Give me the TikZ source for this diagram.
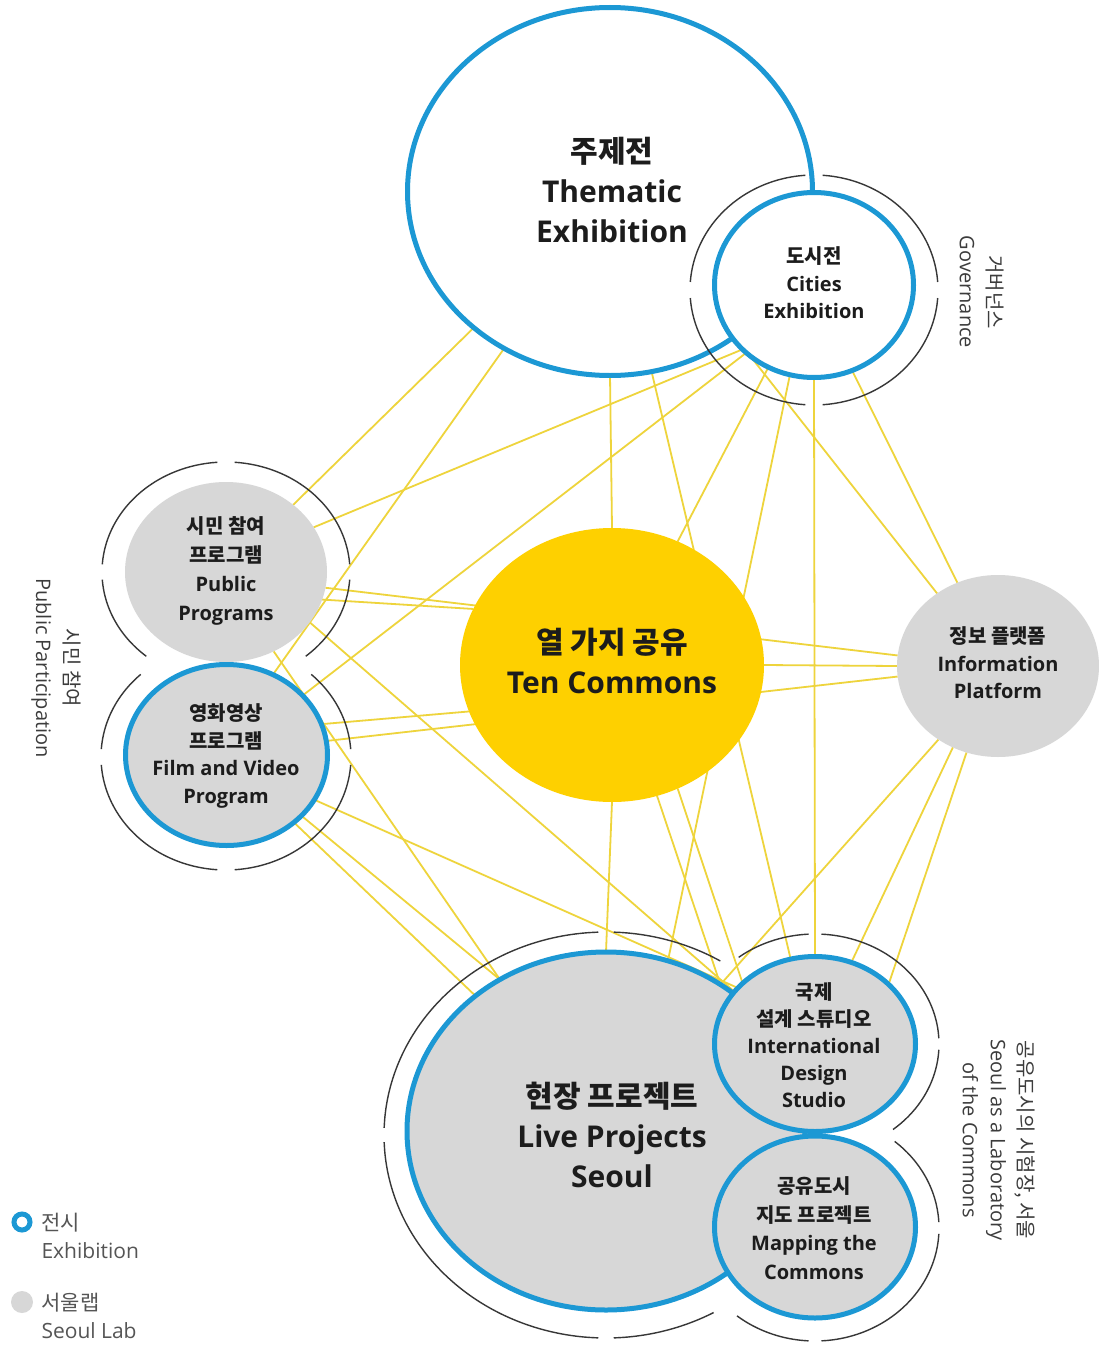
\documentclass[tikz,border=0pt]{standalone}
\usepackage{fontspec}
\setmainfont{Open Sans}
\newfontfamily\kr{Noto Sans CJK KR}
\usetikzlibrary{shapes.geometric}
\definecolor{exblue}{RGB}{28,152,212}
\definecolor{labgray}{RGB}{215,215,215}
\definecolor{commons}{RGB}{254,208,0}
\definecolor{linkc}{RGB}{238,212,60}
\definecolor{ringc}{RGB}{55,55,55}
\definecolor{txtc}{RGB}{28,28,28}
\definecolor{sidec}{RGB}{60,60,60}
\definecolor{legc}{RGB}{85,85,85}
\pgfdeclarelayer{paper}
\pgfdeclarelayer{linklayer}
\pgfsetlayers{paper,linklayer,main}
\newcommand\ringseg[5]{\draw[ringarc, shift={(#1)}] plot[smooth, domain=#4:#5, samples=30, variable=\t] ({#2*cos(\t)},{#3*sin(\t)});}
\begin{document}
\begin{tikzpicture}[x=1pt, y=-1pt,
  blob/.style={ellipse, inner sep=0pt, outer sep=0pt},
  exhib/.style={draw=exblue, line width=5pt},
  linkline/.style={draw=linkc, line width=1.8pt},
  ringarc/.style={draw=ringc, line width=1.4pt},
  bigtxt/.style={align=center, text=txtc, font=\fontsize{30}{40}\selectfont\bfseries},
  smalltxt/.style={align=center, text=txtc, font=\fontsize{20}{27.5}\selectfont\bfseries},
  sidelbl/.style={align=center, rotate=-90, text=sidec, font=\fontsize{20}{28}\selectfont},
  legtxt/.style={align=left, anchor=west, text=legc, font=\fontsize{21}{28}\selectfont},
]
\useasboundingbox (0,0) rectangle (1099,1346);
\begin{pgfonlayer}{paper}
\fill[white] (0,0) rectangle (1099,1346);
\end{pgfonlayer}

% shapes
\node[blob, exhib, fill=white, minimum width=405pt, minimum height=368pt] (T) at (610,191.5) {};
\node[blob, exhib, fill=white, minimum width=199pt, minimum height=185pt] (C) at (814,285) {};
\node[blob, fill=commons, minimum width=304pt, minimum height=274pt] (Y) at (612,665) {};
\node[blob, fill=labgray, minimum width=202pt, minimum height=180pt] (P) at (226,572) {};
\node[blob, exhib, fill=labgray, minimum width=202pt, minimum height=181pt] (F) at (226.5,755) {};
\node[blob, fill=labgray, minimum width=202pt, minimum height=182pt] (I) at (998,666) {};
\node[blob, exhib, fill=labgray, minimum width=398pt, minimum height=358pt] (L) at (606,1131) {};
\node[blob, exhib, fill=labgray, minimum width=201pt, minimum height=175pt] (D) at (815,1044) {};
\node[blob, exhib, fill=labgray, minimum width=201pt, minimum height=182pt] (M) at (815,1227) {};

% connectors
\begin{pgfonlayer}{linklayer}
\draw[linkline] (T.225) -- (P.45);
\draw[linkline] (T.236) -- (F.60);
\draw[linkline] (C.222) -- (P.27);
\draw[linkline] (C.225) -- (F.38);
\draw[linkline] (T.270) -- (Y.90);
\draw[linkline] (T.283) -- (D.106);
\draw[linkline] (C.241) -- (Y.62);
\draw[linkline] (C.255) -- (L.70);
\draw[linkline] (C.270) -- (D.90);
\draw[linkline] (C.228) -- (I.130);
\draw[linkline] (C.294) -- (I.116);
\draw[linkline] (P.351) -- (I.174);
\draw[linkline] (P.344) -- (Y.158);
\draw[linkline] (F.18) -- (Y.198);
\draw[linkline] (F.8) -- (I.186);
\draw[linkline] (Y.0) -- (I.180);
\draw[linkline] (P.301) -- (L.125);
\draw[linkline] (P.329) -- (D.147);
\draw[linkline] (F.333) -- (D.144);
\draw[linkline] (F.321) -- (L.125);
\draw[linkline] (F.315) -- (L.134);
\draw[linkline] (Y.270) -- (L.90);
\draw[linkline] (Y.289) -- (L.52);
\draw[linkline] (Y.298) -- (D.140);
\draw[linkline] (I.231) -- (L.52);
\draw[linkline] (I.241) -- (D.66);
\draw[linkline] (I.250) -- (D.39);
\end{pgfonlayer}

% rings
\coordinate (Cring) at (814,290);
\coordinate (Pring) at (226,572);
\coordinate (Fring) at (226,757);
\coordinate (Lring) at (606,1135);
\coordinate (Dring) at (815,1044);
\coordinate (Mring) at (815,1228);
\ringseg{Cring}{124}{115}{4}{86}
\ringseg{Cring}{124}{115}{94}{176}
\ringseg{Cring}{124}{115}{184}{266}
\ringseg{Cring}{124}{115}{274}{356}
\ringseg{Pring}{124}{110}{-230}{-184}
\ringseg{Pring}{124}{110}{-176}{-94}
\ringseg{Pring}{124}{110}{-86}{-4}
\ringseg{Pring}{124}{110}{4}{50}
\ringseg{Fring}{125}{113}{-47}{-4}
\ringseg{Fring}{125}{113}{4}{86}
\ringseg{Fring}{125}{113}{94}{176}
\ringseg{Fring}{125}{113}{184}{227}
\ringseg{Lring}{222}{203}{61}{88}
\ringseg{Lring}{222}{203}{92}{178}
\ringseg{Lring}{222}{203}{182}{268}
\ringseg{Lring}{222}{203}{272}{301}
\ringseg{Dring}{124}{110}{-128}{-93}
\ringseg{Dring}{124}{110}{-87}{-3}
\ringseg{Dring}{124}{110}{3}{51}
\ringseg{Mring}{124}{113}{-50}{-3}
\ringseg{Mring}{124}{113}{3}{87}
\ringseg{Mring}{124}{113}{93}{129}

% texts
\node[bigtxt] (Tt) at (612,190) {{\kr 주제전}\\Thematic\\Exhibition};
\node[bigtxt] (Yt) at (612,661) {{\kr 열 가지 공유}\\Ten Commons};
\node[bigtxt] (Lt) at (612,1135) {{\kr 현장 프로젝트}\\Live Projects\\Seoul};
\node[smalltxt] (Ct) at (814,283) {{\kr 도시전}\\Cities\\Exhibition};
\node[smalltxt, font=\fontsize{20}{29}\selectfont\bfseries] (Pt) at (226,571) {{\kr 시민 참여}\\{\kr 프로그램}\\Public\\Programs};
\node[smalltxt] (Ft) at (226,756) {{\kr 영화영상}\\{\kr 프로그램}\\Film and Video\\Program};
\node[smalltxt] (It) at (998,663) {{\kr 정보 플랫폼}\\Information\\Platform};
\node[smalltxt, font=\fontsize{20}{27}\selectfont\bfseries] (Dt) at (814,1045) {{\kr 국제}\\{\kr 설계 스튜디오}\\International\\Design\\Studio};
\node[smalltxt, font=\fontsize{20}{28.5}\selectfont\bfseries] (Mt) at (814,1228) {{\kr 공유도시}\\{\kr 지도 프로젝트}\\Mapping the\\Commons};

\node[sidelbl] (gov) at (982,292) {{\kr 거버넌스}\\Governance};
\node[sidelbl] (pub) at (56,668) {{\kr 시민 참여}\\Public Participation};
\node[sidelbl] (lab) at (999,1140) {{\kr 공유도시의 시험장, 서울}\\Seoul as a Laboratory\\of the Commons};

% legend
\node[circle, draw=exblue, line width=5pt, minimum size=16pt, inner sep=0pt] (lgE) at (22,1222) {};
\node[circle, fill=labgray, minimum size=22pt, inner sep=0pt] (lgS) at (22,1302) {};
\node[legtxt] (lgEt) at (38,1236) {{\kr 전시}\\Exhibition};
\node[legtxt] (lgSt) at (38,1316) {{\kr 서울랩}\\Seoul Lab};
\end{tikzpicture}
\end{document}
